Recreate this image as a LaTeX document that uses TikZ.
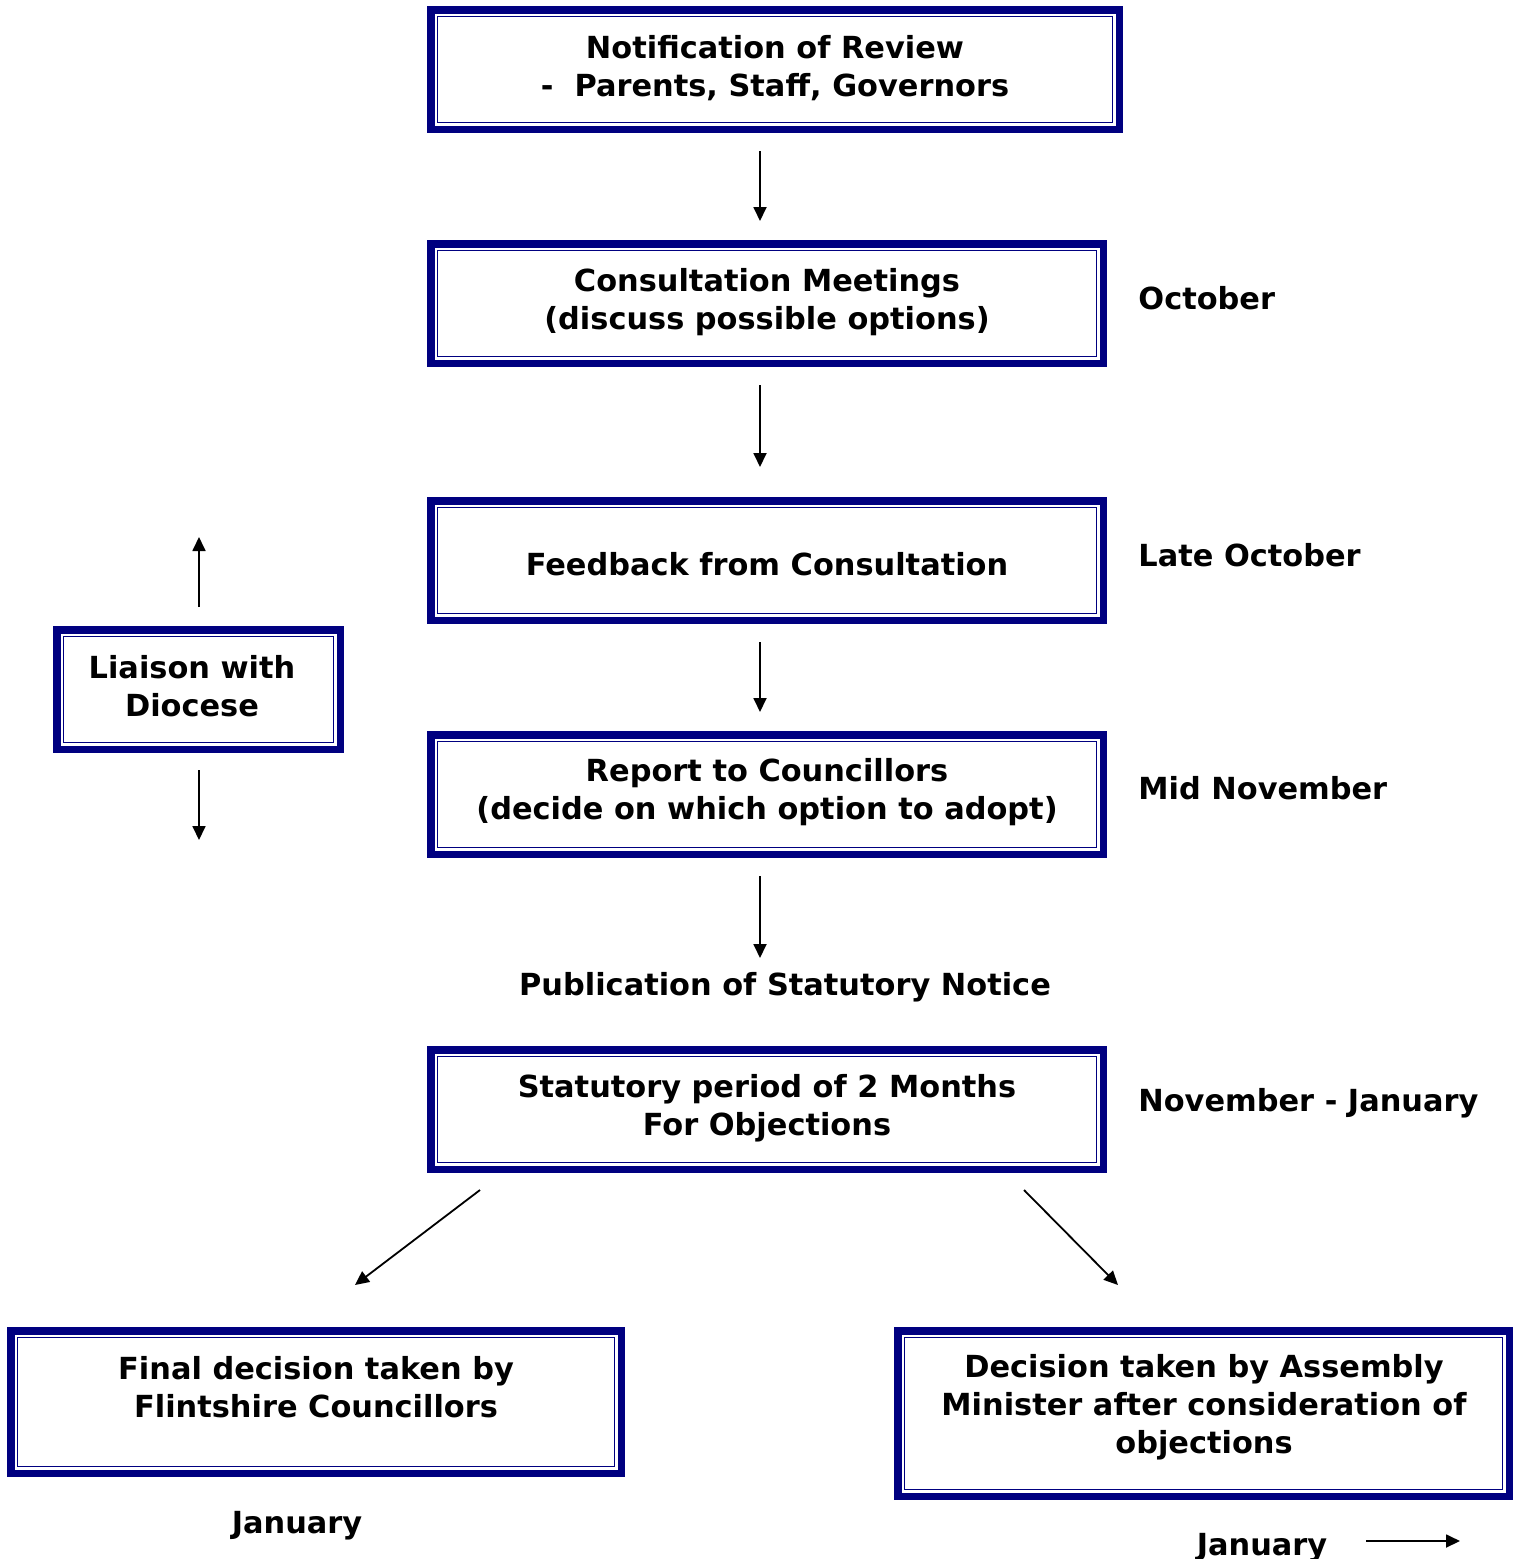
\documentclass[tikz,border=0pt]{standalone}
\usepackage{fontspec}
\setmainfont{DejaVu Sans}
\usetikzlibrary{arrows.meta}
\definecolor{navyc}{RGB}{0,0,128}
\begin{document}
\begin{tikzpicture}[x=0.5pt,y=-0.5pt,
  box/.style={draw=navyc, line width=3.75pt, fill=white, inner sep=0pt, outer sep=0pt, rectangle},
  innerline/.style={draw=navyc, line width=0.9pt},
  txt/.style={font=\bfseries\fontsize{15.2}{19}\selectfont, align=center, inner sep=0pt},
  lbl/.style={font=\bfseries\fontsize{15.2}{19}\selectfont, inner sep=0pt, anchor=west},
  arr/.style={line width=0.9pt, -{Triangle[length=7pt,width=6.5pt]}}]
\useasboundingbox (0,0) rectangle (1520,1559);
% boxes
\node[box, minimum width=344.25pt, minimum height=59.75pt] (b1) at (775,69.5) {};
\node[box, minimum width=336.25pt, minimum height=59.75pt] (b2) at (767,303.5) {};
\node[box, minimum width=336.25pt, minimum height=59.75pt] (b3) at (767,560.5) {};
\node[box, minimum width=336.25pt, minimum height=59.75pt] (b4) at (767,794.5) {};
\node[box, minimum width=336.25pt, minimum height=59.75pt] (b5) at (767,1109.5) {};
\node[box, minimum width=141.75pt, minimum height=59.75pt] (b6) at (198.5,689.5) {};
\node[box, minimum width=305.25pt, minimum height=71.25pt] (b7) at (316,1402) {};
\node[box, minimum width=305.75pt, minimum height=82.75pt] (b8) at (1203.5,1413.5) {};
\foreach \n in {b1,b2,b3,b4,b5,b6,b7,b8}
  \draw[innerline] ([shift={(6.75,6.75)}]\n.north west) rectangle ([shift={(-6.75,-6.75)}]\n.south east);
% texts
\node[txt] (t1) at (775,68) {Notification of Review\\-\ \ Parents, Staff, Governors};
\node[txt] (t2) at (767,302) {Consultation Meetings\\(discuss possible options)};
\node[txt] (t3) at (767,564) {Feedback from Consultation};
\node[txt] (t4) at (767,792) {Report to Councillors\\(decide on which option to adopt)};
\node[txt] (t5) at (767,1108) {Statutory period of 2 Months\\For Objections};
\node[txt] (t6) at (192,686) {Liaison with\\Diocese};
\node[txt] (t7) at (316,1387) {Final decision taken by\\Flintshire Councillors};
\node[txt] (t8) at (1204,1407) {Decision taken by Assembly\\Minister after consideration of\\objections};
% side labels
\node[lbl] (l1) at (1138,298) {October};
\node[lbl] (l2) at (1138,555) {Late October};
\node[lbl] (l3) at (1138,788) {Mid November};
\node[lbl] (l4) at (1138,1103) {November - January};
\node[txt] (pub) at (785,987) {Publication of Statutory Notice};
\node[txt] (j1) at (297,1526) {January};
\node[txt] (j2) at (1262,1548) {January};
% arrow ends
\coordinate (a1s) at (760,151); \coordinate (a1e) at (760,221);
\coordinate (a2s) at (760,385); \coordinate (a2e) at (760,467);
\coordinate (a3s) at (760,642); \coordinate (a3e) at (760,712);
\coordinate (a4s) at (760,876); \coordinate (a4e) at (760,958);
\coordinate (u1s) at (199,607); \coordinate (u1e) at (199,537);
\coordinate (d1s) at (199,770); \coordinate (d1e) at (199,840);
\coordinate (ls) at (480,1190); \coordinate (le) at (355,1285);
\coordinate (rs) at (1024,1190); \coordinate (re) at (1118,1285);
\coordinate (js) at (1366,1541); \coordinate (je) at (1460,1541);
\draw[arr] (a1s) -- (a1e);
\draw[arr] (a2s) -- (a2e);
\draw[arr] (a3s) -- (a3e);
\draw[arr] (a4s) -- (a4e);
\draw[arr] (u1s) -- (u1e);
\draw[arr] (d1s) -- (d1e);
\draw[arr] (ls) -- (le);
\draw[arr] (rs) -- (re);
\draw[arr] (js) -- (je);
\end{tikzpicture}
\end{document}
